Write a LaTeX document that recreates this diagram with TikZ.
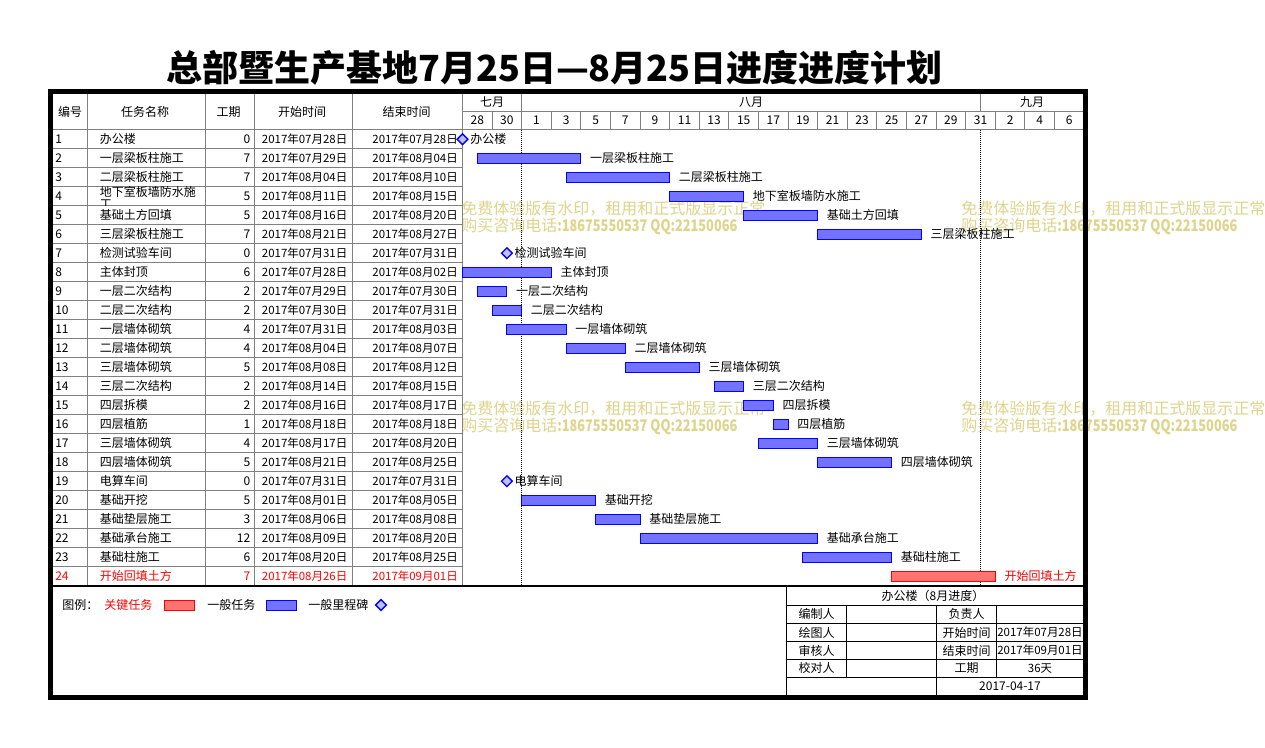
\documentclass[tikz,border=0pt]{standalone}
\usepackage{fontspec}
\setmainfont{Noto Sans CJK SC}
\usepackage{tikz}
\usetikzlibrary{calc}
\usetikzlibrary{shapes.geometric}
\usepackage{xcolor}
\definecolor{gridgray}{RGB}{128,128,128}
\definecolor{wmark}{RGB}{222,212,140}

\begin{document}
\begin{tikzpicture}[x=0.75pt,y=-0.75pt,
			T/.style={inner sep=0pt,font=\fontsize{9}{11}\selectfont},
			D/.style={inner sep=0pt,font=\fontsize{8.6}{11}\selectfont},
			G/.style={draw=gridgray,line width=0.75pt},
			W/.style={inner sep=0pt,anchor=west,text=wmark,font=\fontsize{12}{14}\selectfont},
			M/.style={diamond,draw=blue,fill=blue!25,line width=1pt,inner sep=0pt,minimum size=8.5pt},
			bar/.style={line width=0.75pt,draw=#1,fill=#1!55},
			]
			
			%page
			\useasboundingbox (0,0) rectangle (1265,747);
			\fill[white] (0,0) rectangle (1265,747);
			
			%watermark
			\foreach \wx/\wy [count=\k] in {461/208.5,961/208.5,461/408.5,961/408.5}
			{
				\node[W] (wa\k) at (\wx,\wy) {免费体验版有水印，租用和正式版显示正常};
				\node[W] (wb\k) at (\wx,\wy+18) {购买咨询电话\scalebox{0.8}[1]{\textbf{:18675550537 QQ:22150066}}};
			}
			
			%title
			\node[inner sep=0pt,font=\fontsize{27}{30}\selectfont\bfseries] (title) at (554.5,68) {总部暨生产基地7月25日—8月25日进度进度计划};
			
			%left table grid
			\foreach \gx in {87,205,254,352,462.5}
				\draw[G] (\gx,94) -- (\gx,586);
			\draw[G] (53,129.7) -- (1083,129.7);
			\foreach \r in {1,...,23}
				\draw[G] (53,129.7+19*\r) -- (462.5,129.7+19*\r);
			
			%calendar header
			\draw[G] (462.5,111) -- (1083,111);
			\foreach \gx in {521.7,980.5}
				\draw[G] (\gx,94) -- (\gx,111);
			\foreach \k in {1,...,20}
				\draw[G] (462.5+29.6*\k,111) -- (462.5+29.6*\k,129.7);
			\node[T] (jul) at (492,102.5) {七月};
			\node[T] (aug) at (751,102.5) {八月};
			\node[T] (sep) at (1032,102.5) {九月};
			\foreach \d [count=\k from 0] in {28,30,1,3,5,7,9,11,13,15,17,19,21,23,25,27,29,31,2,4,6}
			{
				\node[T] (d\k) at (477.3+29.6*\k,120.5) {\d};
			}
			
			%month lines
			\foreach \gx in {521.7,980.5}
				\draw[line width=0.75pt,dash pattern=on 0.75pt off 0.75pt] (\gx,129.7) -- (\gx,586);
			
			%table header
			\node[T] (h1) at (70,112) {编号};
			\node[T] (h2) at (145,112) {任务名称};
			\node[T] (h3) at (228.5,112) {工期};
			\node[T] (h4) at (302,112) {开始时间};
			\node[T] (h5) at (406.5,112) {结束时间};
			
			%tasks
			\foreach \i/\nm/\du/\sd/\ed/\a/\b/\bc/\tc in {
				1/办公楼/0/07月28日/07月28日/0/0/blue/black,
				2/一层梁板柱施工/7/07月29日/08月04日/1/8/blue/black,
				3/二层梁板柱施工/7/08月04日/08月10日/7/14/blue/black,
				4/地下室板墙防水施工/5/08月11日/08月15日/14/19/blue/black,
				5/基础土方回填/5/08月16日/08月20日/19/24/blue/black,
				6/三层梁板柱施工/7/08月21日/08月27日/24/31/blue/black,
				7/检测试验车间/0/07月31日/07月31日/3/3/blue/black,
				8/主体封顶/6/07月28日/08月02日/0/6/blue/black,
				9/一层二次结构/2/07月29日/07月30日/1/3/blue/black,
				10/二层二次结构/2/07月30日/07月31日/2/4/blue/black,
				11/一层墙体砌筑/4/07月31日/08月03日/3/7/blue/black,
				12/二层墙体砌筑/4/08月04日/08月07日/7/11/blue/black,
				13/三层墙体砌筑/5/08月08日/08月12日/11/16/blue/black,
				14/三层二次结构/2/08月14日/08月15日/17/19/blue/black,
				15/四层拆模/2/08月16日/08月17日/19/21/blue/black,
				16/四层植筋/1/08月18日/08月18日/21/22/blue/black,
				17/三层墙体砌筑/4/08月17日/08月20日/20/24/blue/black,
				18/四层墙体砌筑/5/08月21日/08月25日/24/29/blue/black,
				19/电算车间/0/07月31日/07月31日/3/3/blue/black,
				20/基础开挖/5/08月01日/08月05日/4/9/blue/black,
				21/基础垫层施工/3/08月06日/08月08日/9/12/blue/black,
				22/基础承台施工/12/08月09日/08月20日/12/24/blue/black,
				23/基础柱施工/6/08月20日/08月25日/23/29/blue/black,
				24/开始回填土方/7/08月26日/09月01日/29/36/red/red}
			{
				\pgfmathsetmacro\yc{120.2+19*\i}
				\node[T,anchor=west,text=\tc] (id\i) at (55,\yc) {\i};
				\ifnum\i=4\else
				\node[T,anchor=west,text=\tc] (nm\i) at (99.5,\yc) {\nm};
				\fi
				\node[T,anchor=east,text=\tc] (du\i) at (250.5,\yc) {\du};
				\node[D,anchor=east,text=\tc] (sd\i) at (347.5,\yc) {2017年\sd};
				\node[D,anchor=east,text=\tc] (ed\i) at (458,\yc) {2017年\ed};
				\ifnum\du=0
				\node[M] (m\i) at (462.5+14.8*\a,\yc) {};
				\node[T,anchor=west,text=\tc] (l\i) at (470+14.8*\a,\yc) {\nm};
				\else
				\draw[bar=\bc] (462.5+14.8*\a,\yc-4.5) rectangle (462.5+14.8*\b,\yc+4.9);
				\node[T,anchor=west,text=\tc] (l\i) at (471.5+14.8*\b,\yc) {\nm};
				\fi
			}
			
			%wrapped name of row 4
			\begin{scope}
				\clip (87,186.3) rectangle (205,205.3);
				\node[T,anchor=west] (nm4) at (99.5,192) {地下室板墙防水施};
				\node[T,anchor=west] (nm4b) at (99.5,204.5) {工};
			\end{scope}
			
			%legend
			\node[T,anchor=west] (lg) at (62,605) {图例：};
			\node[T,anchor=west,text=red] (lgk) at (104,605) {关键任务};
			\draw[bar=red] (164,600.5) rectangle (194,610);
			\node[T,anchor=west] (lgg) at (207,605) {一般任务};
			\draw[bar=blue] (266,600.5) rectangle (296,610);
			\node[T,anchor=west] (lgm) at (308,605) {一般里程碑};
			\node[M] (lgd) at (381,605) {};
			
			%info box
			\draw[line width=1.2pt] (53,586) -- (1083,586);
			\draw[line width=0.75pt] (786.7,586) -- (786.7,697);
			\foreach \gy in {605,623.3,641.7,659.3,677.3}
				\draw[line width=0.75pt] (786.7,\gy) -- (1083,\gy);
			\draw[line width=0.75pt] (846.7,605) -- (846.7,677.3);
			\draw[line width=0.75pt] (996.7,605) -- (996.7,677.3);
			\draw[line width=0.75pt] (936.7,605) -- (936.7,697);
			\node[T] (ib) at (933,595.7) {办公楼（8月进度）};
			\foreach \iy/\ia/\ib/\ic [count=\k] in {614.3/编制人/负责人/{},632.5/绘图人/开始时间/2017年07月28日,650.5/审核人/结束时间/2017年09月01日,668.3/校对人/工期/36天}
			{
				\node[T] (ia\k) at (816.7,\iy) {\ia};
				\node[T] (ib\k) at (966.7,\iy) {\ib};
				\node[D] (ic\k) at (1040,\iy) {\ic};
			}
			\node[T] (date) at (1010,686.5) {2017-04-17};
			
			%border
			\draw[line width=3.6pt] (50.5,91.5) rectangle (1085.5,697.5);
			
\end{tikzpicture}
\end{document}
